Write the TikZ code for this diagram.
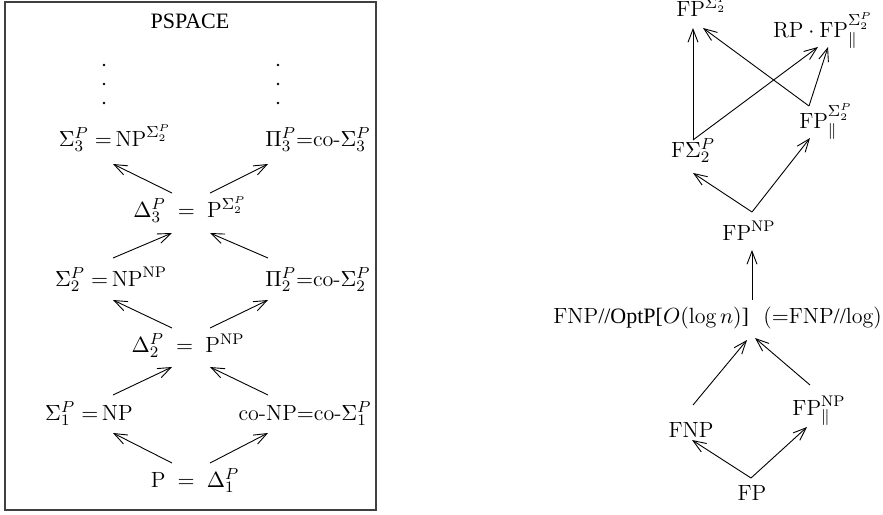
\documentclass[tikz,border=0pt]{standalone}
\usepackage{amsmath}
\usepackage{amssymb}
\usepackage{fontspec}
\usepackage{tikz}
\usetikzlibrary{calc,arrows.meta}
\newfontfamily\tms{Liberation Serif}
\newcommand{\smallfont}{\fontsize{11}{13}\selectfont}
\newcommand{\bigfont}{\fontsize{11}{13}\selectfont}

\begin{document}
\begin{tikzpicture}[x=0.5pt, y=-0.5pt,
  arr/.style={-{Straight Barb[length=6.5pt,width=5pt]}, line width=0.45pt},
  lhs/.style={anchor=base, inner sep=0pt, font=\smallfont},
  rhs/.style={anchor=base, inner sep=0pt, font=\bigfont}]
\useasboundingbox (0,0) rectangle (883,514);

% Polynomial hierarchy (left)
\draw[line width=0.6pt, black!75] (5,2) rectangle (376,510);
\node[lhs] (ps) at (190,28) {\tms PSPACE};
\foreach \y in {65,84,103} {
  \fill (104,\y) circle (0.65pt);
  \fill (278,\y) circle (0.65pt);
}
\node[lhs] (s3) at (115,146) {$\Sigma_3^P\;{=}\,\mathrm{NP}^{\Sigma_2^P}$};
\node[lhs] (p3) at (318,146) {$\Pi_3^P{=}\mathrm{co}\text{-}\Sigma_3^P$};
\node[lhs] (d3) at (190,217) {$\Delta_3^P \;=\; \mathrm{P}^{\Sigma_2^P}$};
\node[lhs] (s2) at (111,286) {$\Sigma_2^P\;{=}\,\mathrm{NP}^{\mathrm{NP}}$};
\node[lhs] (p2) at (318,286) {$\Pi_2^P{=}\mathrm{co}\text{-}\Sigma_2^P$};
\node[lhs] (d2) at (188,352) {$\Delta_2^P \;=\; \mathrm{P}^{\mathrm{NP}}$};
\node[lhs] (s1) at (89,420) {$\Sigma_1^P\;{=}\,\mathrm{NP}$};
\node[lhs] (c1) at (305,420) {$\mathrm{co}\text{-}\mathrm{NP}{=}\mathrm{co}\text{-}\Sigma_1^P$};
\node[lhs] (p1) at (195,487) {$\mathrm{P} \;=\; \Delta_1^P$};

\draw[arr] ($(d3.base)+(-18,-24)$) -- ($(s3.base)+(-2,18)$);
\draw[arr] ($(d3.base)+(20,-24)$) -- ($(p3.base)+(-50,18)$);
\draw[arr] ($(s2.base)+(2,-28)$) -- ($(d3.base)+(-18,16)$);
\draw[arr] ($(p2.base)+(-50,-28)$) -- ($(d3.base)+(20,16)$);
\draw[arr] ($(d2.base)+(-16,-24)$) -- ($(s2.base)+(2,14)$);
\draw[arr] ($(d2.base)+(22,-24)$) -- ($(p2.base)+(-50,14)$);
\draw[arr] ($(s1.base)+(24,-25)$) -- ($(d2.base)+(-16,15)$);
\draw[arr] ($(c1.base)+(-37,-25)$) -- ($(d2.base)+(22,15)$);
\draw[arr] ($(p1.base)+(-23,-24)$) -- ($(s1.base)+(24,13)$);
\draw[arr] ($(p1.base)+(15,-24)$) -- ($(c1.base)+(-37,13)$);

% Function classes (right)
\node[rhs] (fs2) at (703,17) {$\mathrm{FP}^{\Sigma_2^P}$};
\node[rhs] (rp) at (823,37) {$\mathrm{RP}\cdot\mathrm{FP}_{\|}^{\Sigma_2^P}$};
\node[rhs] (fpp) at (826,128) {$\mathrm{FP}_{\|}^{\Sigma_2^P}$};
\node[rhs] (fsig) at (693,157) {$\mathrm{F}\Sigma_2^P$};
\node[rhs] (fpnp) at (749,240) {$\mathrm{FP}^{\mathrm{NP}}$};
\node[rhs, anchor=base west] (opt) at (553,323)
  {$\mathrm{FNP}${\tms//OptP[}$O(\log n)${\tms]}\ \ (${=}\mathrm{FNP}${\tms//}log)};
\node[rhs] (fnp) at (691,437) {$\mathrm{FNP}$};
\node[rhs] (fpnpp) at (819,415) {$\mathrm{FP}_{\|}^{\mathrm{NP}}$};
\node[rhs] (fp) at (752,500) {$\mathrm{FP}$};

\draw[arr] ($(fsig.base)+(0,-17)$) -- ($(fs2.base)+(-10,11)$);
\draw[arr] ($(fsig.base)+(0,-17)$) -- ($(rp.base)+(-5,10)$);
\draw[arr] ($(fpp.base)+(-17,-22)$) -- ($(fs2.base)+(0,11)$);
\draw[arr] ($(fpp.base)+(-17,-22)$) -- ($(rp.base)+(5,10)$);
\draw[arr] ($(fpnp.base)+(3,-28)$) -- ($(fsig.base)+(0,16)$);
\draw[arr] ($(fpnp.base)+(3,-28)$) -- ($(fpp.base)+(-16,10)$);
\draw[arr] ($(opt.base west)+(199,-23)$) -- ($(fpnp.base)+(3,10)$);
\draw[arr] ($(fnp.base)+(2,-32)$) -- ($(opt.base west)+(194,17)$);
\draw[arr] ($(fpnpp.base)+(-9,-30)$) -- ($(opt.base west)+(202,15)$);
\draw[arr] ($(fp.base)+(-1,-22)$) -- ($(fnp.base)+(1,3)$);
\draw[arr] ($(fp.base)+(-1,-22)$) -- ($(fpnpp.base)+(-12,12)$);

\end{tikzpicture}
\end{document}
